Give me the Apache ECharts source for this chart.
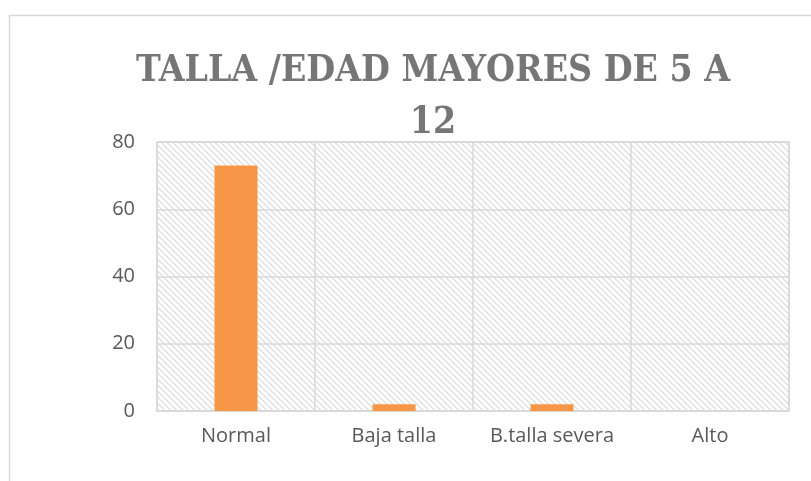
<!DOCTYPE html>
<html>
<head>
<meta charset="utf-8">
<script src="https://cdn.jsdelivr.net/npm/echarts@6/dist/echarts.min.js"></script>
<style>
	html, body { margin: 0; padding: 0; background: #fff; }
	#chart { width: 811px; height: 481px; }
</style>
</head>
<body>
<div id="chart"></div>
<script>
const categories = ["Normal", "Baja talla", "B.talla severa", "Alto"]
const values = [73, 2, 2, 0]
const titleText = "TALLA /EDAD MAYORES DE 5 A\n12"

// diagonal hatch for the plot area
const makeHatch = () => {
	let c = document.createElement("canvas")
	c.width = 12
	c.height = 12
	let ctx = c.getContext("2d")
	ctx.fillStyle = "#ffffff"
	ctx.fillRect(0, 0, 12, 12)
	ctx.fillStyle = "#e2e2e2"
	for (let x = 0; x < 12; x++) {
		for (let y = 0; y < 12; y++) {
			let d = (x - y + 24) % 6
			if (d == 0 || d == 1) ctx.fillRect(x, y, 1, 1)
		}
	}
	return c
}

let chart = echarts.init(document.getElementById("chart"))
let option = {
	animation: false,
	backgroundColor: "#ffffff",
	title: {
		text: titleText,
		left: 428,
		top: 40,
		textAlign: "center",
		textStyle: {
			fontFamily: "DejaVu Serif Condensed",
			fontWeight: "bold",
			fontSize: 37,
			lineHeight: 52,
			color: "#767676",
		},
	},
	graphic: [
		{
			type: "rect",
			shape: { x: 9.5, y: 15.5, width: 900, height: 600 },
			style: { fill: "none", stroke: "#d9d9d9", lineWidth: 1.5 },
			silent: true,
		},
	],
	grid: {
		left: 157,
		right: 22,
		top: 142,
		bottom: 70,
		show: true,
		borderColor: "#d9d9d9",
		borderWidth: 1.5,
		backgroundColor: { image: makeHatch(), repeat: "repeat" },
	},
	xAxis: {
		type: "category",
		data: categories,
		axisTick: { show: false },
		axisLine: { lineStyle: { color: "#d9d9d9", width: 1.5 } },
		splitLine: { show: true, interval: 0, lineStyle: { color: "#d9d9d9", width: 1.5 } },
		axisLabel: {
			interval: 0,
			margin: 15,
			color: "#595959",
			fontFamily: "Open Sans",
			fontSize: 20,
		},
	},
	yAxis: {
		type: "value",
		min: 0,
		max: 80,
		interval: 20,
		axisLine: { show: false },
		axisTick: { show: false },
		splitLine: { lineStyle: { color: "#d9d9d9", width: 1.5 } },
		axisLabel: {
			margin: 22,
			color: "#595959",
			fontFamily: "Open Sans",
			fontSize: 20,
		},
	},
	series: [
		{
			type: "bar",
			data: values,
			barWidth: 43,
			itemStyle: { color: "#F79646" },
		},
	],
}
chart.setOption(option)
</script>
</body>
</html>
